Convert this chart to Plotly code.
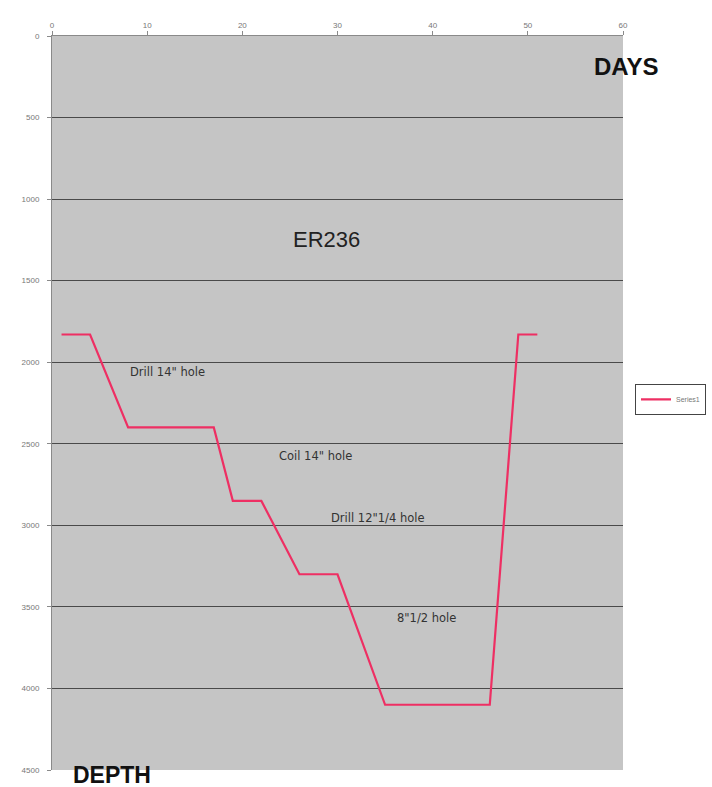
import plotly.graph_objects as go

# Well ER236: depth versus drilling days
days = [1, 4, 8, 17, 19, 22, 26, 30, 35, 46, 49, 51]
depth = [1830, 1830, 2400, 2400, 2850, 2850, 3300, 3300, 4100, 4100, 1830, 1830]

x_ticks = [0, 10, 20, 30, 40, 50, 60]
y_ticks = [0, 500, 1000, 1500, 2000, 2500, 3000, 3500, 4000, 4500]

# Hole-section labels: (text, day, depth)
section_labels = [
    ('Drill 14" hole', 12.1, 2058),
    ('Coil 14" hole', 27.7, 2577),
    ('Drill 12"1/4 hole', 34.3, 2954),
    ('8"1/2 hole', 39.4, 3570),
]

fig = go.Figure()
fig.add_trace(go.Scatter(
    x=days, y=depth, mode="lines", name="Series1",
    line=dict(color="#ee2f63", width=2.2),
))

annotations = [
    dict(text=t, x=d, y=z, xref="x", yref="y", showarrow=False,
         xanchor="center", yanchor="middle",
         font=dict(family="DejaVu Sans", size=11.5, color="#333333"))
    for t, d, z in section_labels
]
annotations += [
    dict(text="ER236", x=28.8, y=1249, xref="x", yref="y", showarrow=False,
         xanchor="center", yanchor="middle",
         font=dict(family="Liberation Sans", size=22, color="#222222")),
    dict(text="<b>DAYS</b>", x=1.006, y=0.958, xref="paper", yref="paper",
         showarrow=False, xanchor="center", yanchor="middle",
         font=dict(family="Liberation Sans", size=24, color="#111111")),
    dict(text="<b>DEPTH</b>", x=0.105, y=-0.0065, xref="paper", yref="paper",
         showarrow=False, xanchor="center", yanchor="middle",
         font=dict(family="Liberation Sans", size=23, color="#111111")),
]

fig.update_layout(
    width=712, height=787,
    margin=dict(l=52, r=89, t=36, b=17, autoexpand=False),
    paper_bgcolor="white",
    plot_bgcolor="#c5c5c5",
    showlegend=True,
    legend=dict(
        x=1.021, y=0.505, xanchor="left", yanchor="middle",
        bgcolor="white", bordercolor="#444444", borderwidth=1,
        entrywidth=100, entrywidthmode="pixels",
        font=dict(family="Liberation Sans", size=7, color="#777777"),
    ),
    annotations=annotations,
    xaxis=dict(
        side="top", range=[0, 60], tickvals=x_ticks,
        showgrid=False, zeroline=False,
        showline=True, linecolor="#8a8a8a", linewidth=1,
        ticks="outside", ticklen=4, tickcolor="#8a8a8a",
        tickfont=dict(family="Liberation Sans", size=8, color="#777777"),
    ),
    yaxis=dict(
        range=[4500, 0], tickvals=y_ticks,
        showgrid=True, gridcolor="#4a4a4a", gridwidth=1,
        zeroline=False,
        showline=True, linecolor="#8a8a8a", linewidth=1,
        ticks="outside", ticklen=4, tickcolor="#8a8a8a",
        tickfont=dict(family="Liberation Sans", size=8, color="#777777"),
        ticklabelstandoff=6,
    ),
)

fig.write_html("out.html")
